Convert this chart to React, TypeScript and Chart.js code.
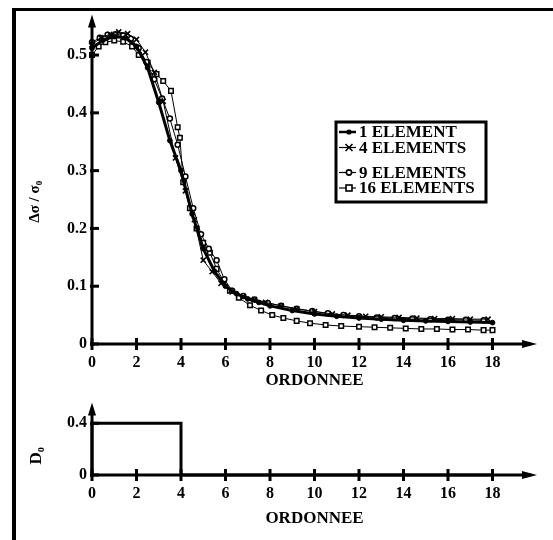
import React, { useEffect, useRef } from 'react';
import { Chart, registerables } from 'chart.js';

Chart.register(...registerables);

const FONT = '"Liberation Serif", "Times New Roman", serif';

// ---- tick labels ----
const xTickValues = [0, 2, 4, 6, 8, 10, 12, 14, 16, 18];
const yTickValues = [0, 0.1, 0.2, 0.3, 0.4, 0.5];
const dTickValues = [0, 0.4];

// ---- series ----
const seriesLabels = ['1 ELEMENT', '4 ELEMENTS', '9 ELEMENTS', '16 ELEMENTS'];

const x1 = [0, 0.5, 1, 1.5, 2, 2.5, 3, 3.5, 4, 4.5, 5, 5.5, 6, 6.5, 7, 7.5, 8, 9, 10, 11, 12, 13, 14, 15, 16, 17, 18];
const y1 = [0.512, 0.526, 0.532, 0.530, 0.515, 0.478, 0.418, 0.352, 0.300, 0.225, 0.165, 0.126, 0.100, 0.087, 0.078, 0.072, 0.066, 0.058, 0.052, 0.048, 0.045, 0.043, 0.041, 0.040, 0.039, 0.038, 0.037];

const x4 = [0, 0.4, 0.8, 1.2, 1.6, 2, 2.4, 2.8, 3.2, 3.75, 4.2, 4.6, 5, 5.4, 5.8, 6.3, 6.8, 7.3, 7.8, 8.5, 9.2, 10, 10.8, 11.5, 12.3, 13, 13.8, 14.6, 15.4, 16.2, 17, 17.8];
const y4 = [0.518, 0.530, 0.536, 0.540, 0.537, 0.527, 0.505, 0.470, 0.420, 0.322, 0.265, 0.215, 0.145, 0.125, 0.105, 0.090, 0.082, 0.077, 0.072, 0.066, 0.061, 0.056, 0.052, 0.050, 0.048, 0.047, 0.046, 0.045, 0.044, 0.044, 0.043, 0.043];

const x9 = [0, 0.35, 0.7, 1.05, 1.4, 1.75, 2.1, 2.45, 2.8, 3.15, 3.5, 3.85, 4.2, 4.55, 4.9, 5.25, 5.6, 5.95, 6.3, 6.8, 7.3, 7.9, 8.5, 9.2, 9.9, 10.6, 11.3, 12, 12.8, 13.6, 14.4, 15.2, 16, 16.8, 17.6];
const y9 = [0.522, 0.530, 0.535, 0.536, 0.534, 0.528, 0.512, 0.488, 0.458, 0.425, 0.390, 0.345, 0.290, 0.235, 0.190, 0.165, 0.145, 0.112, 0.092, 0.083, 0.077, 0.071, 0.066, 0.061, 0.057, 0.053, 0.050, 0.048, 0.046, 0.045, 0.044, 0.043, 0.042, 0.042, 0.041];

const x16 = [0, 0.3, 0.6, 1, 1.4, 1.8, 2.1, 2.5, 2.9, 3.2, 3.55, 3.85, 3.95, 4.1, 4.4, 4.7, 5, 5.3, 5.6, 5.9, 6.2, 6.6, 7.1, 7.6, 8.1, 8.6, 9.2, 9.8, 10.5, 11.2, 12, 12.7, 13.4, 14.1, 14.8, 15.5, 16.2, 16.9, 17.6, 18];
const y16 = [0.500, 0.515, 0.522, 0.525, 0.523, 0.515, 0.500, 0.487, 0.467, 0.455, 0.438, 0.375, 0.357, 0.280, 0.235, 0.200, 0.175, 0.158, 0.130, 0.110, 0.092, 0.080, 0.067, 0.058, 0.050, 0.045, 0.040, 0.036, 0.033, 0.031, 0.030, 0.029, 0.028, 0.027, 0.026, 0.026, 0.025, 0.025, 0.024, 0.024];

// ---- lower panel: D0 step ----
const dX = [0, 0, 4, 4, 18];
const dY = [0, 0.4, 0.4, 0, 0];

const pts = (xs: number[], ys: number[]) => xs.map((x, i) => ({ x, y: ys[i] }));

const font = (size: number) => ({ family: FONT, size, weight: 'bold' as const });

function line(ctx: CanvasRenderingContext2D, ax: number, ay: number, bx: number, by: number) {
  ctx.beginPath();
  ctx.moveTo(ax, ay);
  ctx.lineTo(bx, by);
  ctx.stroke();
}

const axesPlugin = {
  id: 'sketchAxes',
  afterDraw(chart: any) {
    const { ctx, chartArea: a, scales } = chart;
    const xs = scales.x;
    const ys = scales.y;
    ctx.save();
    ctx.strokeStyle = '#000';
    ctx.fillStyle = '#000';
    ctx.lineWidth = 3;
    line(ctx, a.left, a.bottom + 2, a.left, a.top + 6);
    line(ctx, a.left - 2, a.bottom, a.right - 6, a.bottom);
    // arrow heads
    ctx.beginPath();
    ctx.moveTo(a.left, a.top);
    ctx.lineTo(a.left - 4, a.top + 13);
    ctx.lineTo(a.left + 4, a.top + 13);
    ctx.closePath();
    ctx.fill();
    ctx.beginPath();
    ctx.moveTo(a.right, a.bottom);
    ctx.lineTo(a.right - 15, a.bottom - 4);
    ctx.lineTo(a.right - 15, a.bottom + 4);
    ctx.closePath();
    ctx.fill();
    // tick marks
    xs.ticks.forEach((t: any) => {
      const p = xs.getPixelForValue(t.value);
      line(ctx, p, a.bottom - 6, p, a.bottom + 6);
    });
    ys.ticks.forEach((t: any) => {
      const p = ys.getPixelForValue(t.value);
      line(ctx, a.left - 2, p, a.left + 7, p);
    });
    ctx.restore();
  },
};

function drawMarker(ctx: CanvasRenderingContext2D, style: string, x: number, y: number) {
  ctx.save();
  ctx.strokeStyle = '#000';
  ctx.lineWidth = 1.6;
  if (style === 'dot') {
    ctx.fillStyle = '#000';
    ctx.beginPath();
    ctx.arc(x, y, 2.6, 0, Math.PI * 2);
    ctx.fill();
  } else if (style === 'cross') {
    line(ctx, x - 3.5, y - 3.5, x + 3.5, y + 3.5);
    line(ctx, x - 3.5, y + 3.5, x + 3.5, y - 3.5);
  } else if (style === 'circle') {
    ctx.fillStyle = '#fff';
    ctx.beginPath();
    ctx.arc(x, y, 2.6, 0, Math.PI * 2);
    ctx.fill();
    ctx.stroke();
  } else {
    ctx.fillStyle = '#fff';
    ctx.fillRect(x - 3, y - 3, 6, 6);
    ctx.strokeRect(x - 3, y - 3, 6, 6);
  }
  ctx.restore();
}

const legendMarkers = ['dot', 'cross', 'circle', 'square'];
const legendRows = [132, 147.5, 172.5, 188];

const legendPlugin = {
  id: 'sketchLegend',
  afterDraw(chart: any) {
    const { ctx } = chart;
    ctx.save();
    ctx.strokeStyle = '#000';
    ctx.lineWidth = 3;
    ctx.strokeRect(336, 122, 150, 80);
    chart.data.datasets.forEach((ds: any, i: number) => {
      const y = legendRows[i];
      ctx.lineWidth = i === 0 ? 2.5 : 1.2;
      line(ctx, 339, y, 356, y);
      drawMarker(ctx, legendMarkers[i], 349, y);
      ctx.fillStyle = '#000';
      ctx.font = `bold 17px ${FONT}`;
      ctx.textBaseline = 'middle';
      ctx.textAlign = 'left';
      ctx.fillText(ds.label, 359, y + 1);
    });
    ctx.restore();
  },
};

export default function App() {
  const topRef = useRef<HTMLCanvasElement>(null);
  const botRef = useRef<HTMLCanvasElement>(null);

  useEffect(() => {
    if (!topRef.current || !botRef.current) return;

    const common = (ds: any) => ({
      showLine: true,
      borderColor: '#000',
      pointBorderColor: '#000',
      clip: 10,
      ...ds,
    });

    const top = new Chart(topRef.current, {
      type: 'scatter',
      data: {
        datasets: [
          common({ label: seriesLabels[0], data: pts(x1, y1), borderWidth: 3, pointStyle: 'circle', pointRadius: 2.4, pointBackgroundColor: '#000', pointBorderWidth: 1 }),
          common({ label: seriesLabels[1], data: pts(x4, y4), borderWidth: 1, pointStyle: 'crossRot', pointRadius: 3.6, pointBorderWidth: 1.6 }),
          common({ label: seriesLabels[2], data: pts(x9, y9), borderWidth: 1, pointStyle: 'circle', pointRadius: 2.5, pointBackgroundColor: '#fff', pointBorderWidth: 1.5 }),
          common({ label: seriesLabels[3], data: pts(x16, y16), borderWidth: 1, pointStyle: 'rect', pointRadius: 3.2, pointBackgroundColor: '#fff', pointBorderWidth: 1.5 }),
        ],
      },
      options: {
        animation: false,
        responsive: false,
        devicePixelRatio: 1,
        layout: { padding: { left: 0, top: 13, right: 16, bottom: 0 } },
        plugins: { legend: { display: false }, tooltip: { enabled: false } },
        scales: {
          x: {
            type: 'linear',
            min: 0,
            max: 20,
            afterFit: (s: any) => { s.height = 56; },
            afterBuildTicks: (s: any) => { s.ticks = xTickValues.map((v) => ({ value: v })); },
            grid: { display: false, drawTicks: false },
            border: { display: false },
            ticks: { padding: 9, color: '#000', font: font(16), autoSkip: false, maxRotation: 0, callback: (v: any) => String(v) },
            title: { display: true, text: 'ORDONNEE', color: '#000', font: font(17), padding: { top: 0, bottom: 9 } },
          },
          y: {
            type: 'linear',
            min: 0,
            max: 0.57,
            afterFit: (s: any) => { s.width = 92; },
            afterBuildTicks: (s: any) => { s.ticks = yTickValues.map((v) => ({ value: v })); },
            grid: { display: false, drawTicks: false },
            border: { display: false },
            ticks: { padding: 5, color: '#000', font: font(16), callback: (v: any) => String(v) },
            title: { display: true, text: 'Δσ / σ₀' + '            ', color: '#000', font: font(15), padding: { top: 26, bottom: 0 } },
          },
        },
      },
      plugins: [axesPlugin, legendPlugin],
    } as any);

    const bottom = new Chart(botRef.current, {
      type: 'scatter',
      data: {
        datasets: [
          { label: 'D0', data: pts(dX, dY), showLine: true, borderColor: '#000', borderWidth: 3, pointRadius: 0, clip: 6 },
        ],
      },
      options: {
        animation: false,
        responsive: false,
        devicePixelRatio: 1,
        layout: { padding: { left: 0, top: 4, right: 16, bottom: 0 } },
        plugins: { legend: { display: false }, tooltip: { enabled: false } },
        scales: {
          x: {
            type: 'linear',
            min: 0,
            max: 20,
            afterFit: (s: any) => { s.height = 65; },
            afterBuildTicks: (s: any) => { s.ticks = xTickValues.map((v) => ({ value: v })); },
            grid: { display: false, drawTicks: false },
            border: { display: false },
            ticks: { padding: 9, color: '#000', font: font(16), autoSkip: false, maxRotation: 0, callback: (v: any) => String(v) },
            title: { display: true, text: 'ORDONNEE', color: '#000', font: font(17), padding: { top: 0, bottom: 11 } },
          },
          y: {
            type: 'linear',
            min: 0,
            max: 0.56,
            afterFit: (s: any) => { s.width = 92; },
            afterBuildTicks: (s: any) => { s.ticks = dTickValues.map((v) => ({ value: v })); },
            grid: { display: false, drawTicks: false },
            border: { display: false },
            ticks: { padding: 5, color: '#000', font: font(16), callback: (v: any) => String(v) },
            title: { display: true, text: 'D₀' + '        ', color: '#000', font: font(17), padding: { top: 26, bottom: 0 } },
          },
        },
      },
      plugins: [axesPlugin],
    } as any);

    return () => {
      top.destroy();
      bottom.destroy();
    };
  }, []);

  return (
    <div style={{ position: 'absolute', left: 0, top: 0, width: 553, height: 540, overflow: 'hidden', background: '#fff' }}>
      <div style={{ position: 'absolute', left: 12, top: 8, width: 560, height: 560, borderTop: '3px solid #000', borderLeft: '4px solid #000', boxSizing: 'border-box' }} />
      <canvas ref={topRef} width={553} height={400} style={{ position: 'absolute', left: 0, top: 0, width: 553, height: 400 }} />
      <canvas ref={botRef} width={553} height={152} style={{ position: 'absolute', left: 0, top: 388, width: 553, height: 152 }} />
    </div>
  );
}
